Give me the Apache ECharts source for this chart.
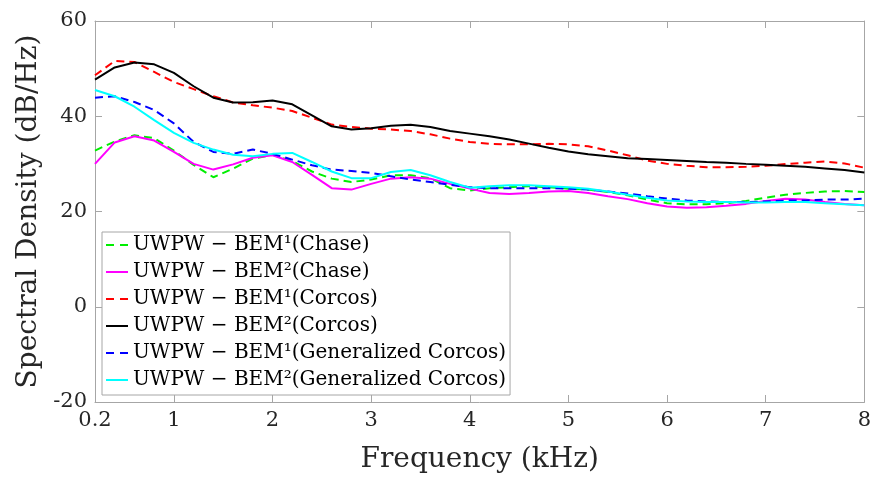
<!DOCTYPE html>
<html>
<head>
<meta charset="utf-8">
<script src="https://cdn.jsdelivr.net/npm/echarts@6/dist/echarts.min.js"></script>
<style>html,body{margin:0;padding:0;background:#fff;}#c{width:874px;height:485px;}</style>
</head>
<body>
<div id="c"></div>
<script>
const freq = [0.2,0.4,0.6,0.8,1.0,1.2,1.4,1.6,1.8,2.0,2.2,2.4,2.6,2.8,3.0,3.2,3.4,3.6,3.8,4.0,4.2,4.4,4.6,4.8,5.0,5.2,5.4,5.6,5.8,6.0,6.2,6.4,6.6,6.8,7.0,7.2,7.4,7.6,7.8,8.0];
const chaseBem1 = [32.8,34.7,36.0,35.4,32.8,29.8,27.2,29.0,31.1,31.9,30.6,28.4,26.9,26.2,26.7,27.6,27.6,27.0,24.9,24.4,24.9,25.1,25.3,25.1,24.8,24.6,24.1,23.4,22.5,21.75,21.5,21.5,21.75,22.2,22.9,23.5,23.9,24.2,24.3,24.1];
const chaseBem2 = [30.0,34.5,35.8,34.9,32.5,30.0,28.8,29.9,31.3,31.8,30.4,27.7,24.9,24.6,25.8,26.9,27.2,26.9,25.8,24.8,23.9,23.7,23.9,24.2,24.3,23.9,23.2,22.6,21.75,21.05,20.8,20.9,21.2,21.6,22.2,22.7,22.5,22.0,21.6,21.3];
const corcosBem1 = [48.6,51.6,51.4,49.3,47.2,45.7,44.2,42.9,42.3,41.8,41.1,39.7,38.25,37.75,37.4,37.2,36.9,36.2,35.3,34.6,34.2,34.1,34.1,34.2,34.1,33.7,32.8,31.8,30.7,30.0,29.6,29.3,29.3,29.4,29.6,29.95,30.25,30.5,30.1,29.2];
const corcosBem2 = [47.7,50.25,51.3,50.9,49.1,46.3,43.9,42.9,42.95,43.3,42.5,40.2,37.9,37.2,37.5,38.0,38.2,37.75,36.9,36.35,35.8,35.1,34.25,33.4,32.6,32.0,31.6,31.2,31.0,30.8,30.6,30.4,30.25,30.0,29.8,29.6,29.4,29.05,28.7,28.2];
const genBem1 = [43.9,44.2,43.0,41.3,38.5,34.6,32.5,32.1,33.0,32.1,30.9,29.7,28.8,28.5,28.1,27.4,26.7,26.2,25.6,25.1,24.9,24.9,24.9,24.9,24.8,24.6,24.2,23.8,23.2,22.7,22.3,22.1,22.0,22.0,22.1,22.3,22.3,22.5,22.5,22.7];
const genBem2 = [45.5,44.2,42.0,39.2,36.5,34.4,33.0,31.9,31.6,32.1,32.3,30.4,28.4,27.0,27.0,28.3,28.7,27.6,26.2,25.0,25.3,25.5,25.5,25.3,25.1,24.8,24.2,23.5,22.9,22.3,22.1,22.0,22.0,21.9,21.9,22.0,22.0,21.75,21.5,21.3];
const xTicks = [0.2,1,2,3,4,5,6,7,8];
const yTicks = [-20,0,20,40,60];
const names = ['UWPW − BEM¹(Chase)','UWPW − BEM²(Chase)','UWPW − BEM¹(Corcos)','UWPW − BEM²(Corcos)','UWPW − BEM¹(Generalized Corcos)','UWPW − BEM²(Generalized Corcos)'];
const colors = ['#00ee00','#ff00ff','#ff0000','#000000','#0000ff','#00ffff'];
const dashed = [true,false,true,false,true,false];
const values = [chaseBem1,chaseBem2,corcosBem1,corcosBem2,genBem1,genBem2];

const FONT = 'DejaVu Serif';
const axisColor = '#a6a6a6';
const tickStyle = {show:true, inside:true, length:7, lineStyle:{color:axisColor}};
const DASH_ICON = 'path://M0,0h8v2h-8z M14,0h8v2h-8z';
const SOLID_ICON = 'path://M0,0h22v2h-22z';

const series = values.map((v,i)=>({
  name: names[i], type:'line', symbol:'none', showSymbol:false, smooth:false,
  data: freq.map((f,j)=>[f,v[j]]),
  lineStyle:{color:colors[i], width:2, type: dashed[i]?[8,5]:'solid'},
  itemStyle:{color:colors[i]},
  emphasis:{disabled:true}, z: 2+i
}));

const chart = echarts.init(document.getElementById('c'), null, {renderer:'canvas'});
chart.setOption({
  animation:false,
  backgroundColor:'#fff',
  grid:{left:95, right:7, top:21, bottom:83, containLabel:false},
  xAxis:[{
    type:'value', min:0.2, max:8, position:'bottom',
    name:'Frequency (kHz)', nameLocation:'middle', nameGap:44,
    nameTextStyle:{fontFamily:FONT, fontSize:28, color:'#262626'},
    axisLine:{show:true, onZero:false, lineStyle:{color:axisColor}},
    axisTick:Object.assign({customValues:xTicks}, tickStyle),
    axisLabel:{customValues:xTicks, margin:8, fontFamily:FONT, fontSize:21, color:'#262626',
      formatter:v=>String(v)},
    splitLine:{show:false}
  },{
    type:'value', min:0.2, max:8, position:'top',
    axisLine:{show:true, onZero:false, lineStyle:{color:axisColor}},
    axisTick:Object.assign({customValues:xTicks}, tickStyle),
    axisLabel:{show:false}, splitLine:{show:false}
  }],
  yAxis:[{
    type:'value', min:-20, max:60, interval:20, position:'left',
    name:'Spectral Density (dB/Hz)', nameLocation:'middle', nameGap:52, nameRotate:90,
    nameTextStyle:{fontFamily:FONT, fontSize:28, color:'#262626'},
    axisLine:{show:true, onZero:false, lineStyle:{color:axisColor}},
    axisTick:tickStyle,
    axisLabel:{margin:8, fontFamily:FONT, fontSize:21, color:'#262626'},
    splitLine:{show:false}
  },{
    type:'value', min:-20, max:60, interval:20, position:'right',
    axisLine:{show:true, onZero:false, lineStyle:{color:axisColor}},
    axisTick:tickStyle, axisLabel:{show:false}, splitLine:{show:false}
  }],
  legend:{
    orient:'vertical', left:102, top:232,
    data: names.map((n,i)=>({name:n, icon: dashed[i]?DASH_ICON:SOLID_ICON})),
    itemWidth:22, itemHeight:2, itemGap:5,
    padding:[2,4,4,4],
    borderColor:'#a6a6a6', borderWidth:1, backgroundColor:'#fff',
    textStyle:{fontFamily:FONT, fontSize:20, lineHeight:22, color:'#000'},
    selectedMode:false
  },
  series: series
});
</script>
</body>
</html>
